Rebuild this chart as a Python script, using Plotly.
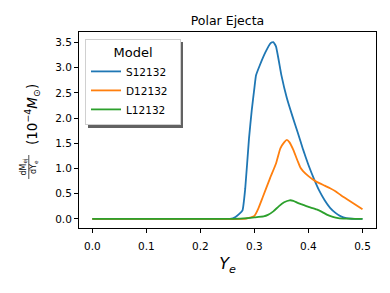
import plotly.graph_objects as go

# ---- data ----
s_x = [0.0, 0.1, 0.2, 0.25, 0.255, 0.265, 0.272, 0.278, 0.283, 0.29, 0.295, 0.30, 0.303,
       0.31, 0.32, 0.33, 0.335, 0.34, 0.35, 0.36, 0.37, 0.38, 0.39, 0.40, 0.41, 0.42,
       0.43, 0.44, 0.45, 0.46, 0.47, 0.48, 0.49, 0.50]
s_y = [0.0, 0.0, 0.0, 0.0, 0.0, 0.04, 0.10, 0.17, 0.60, 1.60, 2.15, 2.60, 2.85,
       3.05, 3.30, 3.49, 3.51, 3.42, 2.85, 2.40, 2.05, 1.72, 1.38, 1.07, 0.80, 0.56,
       0.37, 0.22, 0.12, 0.05, 0.015, 0.004, 0.0, 0.0]

d_x = [0.0, 0.1, 0.2, 0.28, 0.29, 0.30, 0.307, 0.315, 0.329, 0.34, 0.348, 0.355, 0.36,
       0.365, 0.372, 0.38, 0.385, 0.39, 0.40, 0.41, 0.42, 0.43, 0.44, 0.45, 0.46,
       0.47, 0.48, 0.49, 0.50]
d_y = [0.0, 0.0, 0.0, 0.0, 0.02, 0.06, 0.20, 0.42, 0.81, 1.10, 1.40, 1.52, 1.57,
       1.52, 1.37, 1.15, 1.02, 0.95, 0.85, 0.77, 0.71, 0.66, 0.61, 0.55, 0.47,
       0.40, 0.33, 0.26, 0.19]

l_x = [0.0, 0.1, 0.2, 0.25, 0.28, 0.30, 0.317, 0.325, 0.335, 0.345, 0.355, 0.365, 0.372,
       0.38, 0.39, 0.40, 0.415, 0.425, 0.435, 0.445, 0.455, 0.47, 0.50]
l_y = [0.0, 0.0, 0.0, 0.0, 0.01, 0.03, 0.05, 0.08, 0.15, 0.25, 0.33, 0.37, 0.36,
       0.32, 0.28, 0.24, 0.19, 0.14, 0.08, 0.04, 0.015, 0.005, 0.0]

names = ["S12132", "D12132", "L12132"]
colors = ["#1f77b4", "#ff7f0e", "#2ca02c"]
x_ticks = [0.0, 0.1, 0.2, 0.3, 0.4, 0.5]
y_ticks = [0.0, 0.5, 1.0, 1.5, 2.0, 2.5, 3.0, 3.5]

FONT = "DejaVu Sans"
OFF = 8  # page body margin offset
W, H = 390 - OFF, 293 - OFF
L, R, T, B = 79 - OFF, 376 - OFF, 32 - OFF, 228 - OFF  # plot area in figure px
pw, ph = R - L, B - T

def px(x):  # x in window px -> paper
    return (x - OFF - L) / pw

def py(y):  # y in window px -> paper
    return (B - (y - OFF)) / ph

fig = go.Figure()
for xs, ys, n, c in zip([s_x, d_x, l_x], [s_y, d_y, l_y], names, colors):
    fig.add_trace(go.Scatter(x=xs, y=ys, mode="lines", name=n + "\u00a0\u00a0",
                             line=dict(color=c, width=1.8, shape="spline", smoothing=0.4)))

axis_common = dict(showline=True, linecolor="black", linewidth=1, mirror=True,
                   ticks="outside", ticklen=4, tickwidth=0.8, tickcolor="black",
                   showgrid=False, zeroline=False, automargin=False,
                   tickfont=dict(family=FONT, size=10.5, color="black"))

fig.update_xaxes(range=[-0.0246, 0.525], tickvals=x_ticks,
                 ticktext=[f"{v:.1f}" for v in x_ticks], ticklabelstandoff=4,
                 title=dict(text="<i>Y<sub>e</sub></i>", font=dict(family=FONT, size=16, color="black"),
                            standoff=7),
                 **axis_common)
fig.update_yaxes(range=[-0.18, 3.71], tickvals=y_ticks,
                 ticktext=[f"{v:.1f}" for v in y_ticks], **axis_common)

# legend shadow
fig.add_shape(type="rect", xref="paper", yref="paper",
              x0=px(88), x1=px(183), y0=py(128), y1=py(42),
              fillcolor="rgba(70,70,70,0.85)", line=dict(width=0), layer="above")

fig.update_layout(
    width=W, height=H,
    margin=dict(l=L, r=W - R, t=T, b=H - B, autoexpand=False),
    paper_bgcolor="white", plot_bgcolor="white",
    font=dict(family=FONT, color="black"),
    title=dict(text="Polar Ejecta", x=0.5, xref="paper", y=1 - (21 - OFF) / H, yanchor="middle",
               font=dict(family=FONT, size=12.5, color="black")),
    showlegend=True,
    legend=dict(x=px(85), y=py(39), xanchor="left", yanchor="top",
                bgcolor="white", bordercolor="#d0d0d0", borderwidth=1,
                font=dict(family=FONT, size=10.5, color="black"),
                title=dict(text="Model", side="top center",
                           font=dict(family=FONT, size=13, color="black")),
                tracegroupgap=0, itemwidth=30),
)

# y-axis label: fraction + units
ann = dict(xref="paper", yref="paper", showarrow=False, textangle=-90,
           xanchor="center", yanchor="middle")
fig.add_annotation(x=px(23.5), y=py(167), text="dM<sub>ej</sub>",
                   font=dict(family=FONT, size=8, color="black"), **ann)
fig.add_annotation(x=px(34), y=py(167), text="dY<sub>e</sub>",
                   font=dict(family=FONT, size=8, color="black"), **ann)
fig.add_shape(type="line", xref="paper", yref="paper", x0=px(28.8), x1=px(28.8),
              y0=py(155), y1=py(179), line=dict(color="black", width=0.7))
fig.add_annotation(x=px(32), y=py(115),
                   text="(10<sup>\u22124</sup><i>M</i><sub>\u2299</sub>)",
                   font=dict(family=FONT, size=13.5, color="black"), **ann)

fig.write_html("out.html")
